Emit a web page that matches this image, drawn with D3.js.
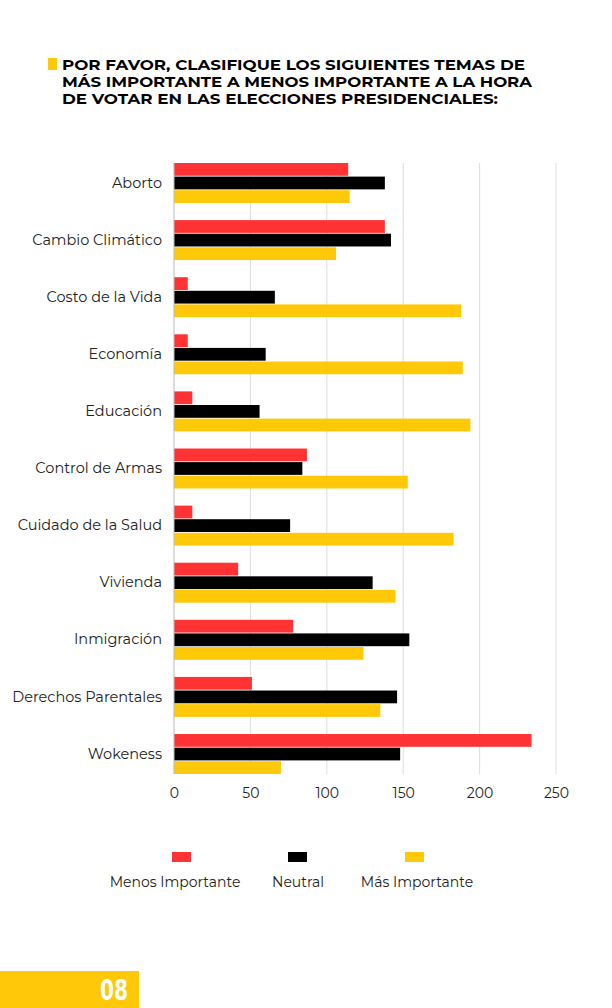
<!DOCTYPE html>
<html>
<head>
<meta charset="utf-8">
<script src="https://cdn.jsdelivr.net/npm/d3@7"></script>
<style>
  body { margin: 0; background: #fff; }
  svg { display: block; }
</style>
</head>
<body>
<svg></svg>
<script>
const categories = ['Aborto', 'Cambio Climático', 'Costo de la Vida', 'Economía', 'Educación',
  'Control de Armas', 'Cuidado de la Salud', 'Vivienda', 'Inmigración', 'Derechos Parentales', 'Wokeness']
const seriesNames = ['Menos Importante', 'Neutral', 'Más Importante']
const menosImportante = [114, 138, 9, 9, 12, 87, 12, 42, 78, 51, 234]
const neutral = [138, 142, 66, 60, 56, 84, 76, 130, 154, 146, 148]
const masImportante = [115, 106, 188, 189, 194, 153, 183, 145, 124, 135, 70]
const xTicks = [0, 50, 100, 150, 200, 250]
const titleLines = ['POR FAVOR, CLASIFIQUE LOS SIGUIENTES TEMAS DE',
  'MÁS IMPORTANTE A MENOS IMPORTANTE A LA HORA',
  'DE VOTAR EN LAS ELECCIONES PRESIDENCIALES:']

const width = 612
const height = 1008
const plotLeft = 174
const plotRight = 556
const plotTop = 163
const plotBottom = 774
const colors = ['#ff3333', '#000000', '#ffc808']
const font = 'Montserrat, "DejaVu Sans", sans-serif'

const series = [menosImportante, neutral, masImportante]
const data = categories.map((c, i) => ({ name: c, values: series.map(s => s[i]) }))

const svg = d3.select('svg')
              .attr('width', width)
              .attr('height', height)

// title
svg.append('rect')
   .attr('x', 48).attr('y', 58)
   .attr('width', 9).attr('height', 12)
   .attr('fill', colors[2])

svg.append('g')
   .selectAll('text')
   .data(titleLines)
   .join('text')
   .attr('x', 62)
   .attr('y', (d, i) => 70 + i * 17)
   .text(d => d)
   .style('font-family', font)
   .style('font-weight', 'bold')
   .style('font-size', '15px')
   .attr('textLength', (d, i) => [463, 470, 436][i])
   .attr('lengthAdjust', 'spacingAndGlyphs')

const xScale = d3.scaleLinear()
                 .domain([0, 250])
                 .range([plotLeft, plotRight])

const yScale = d3.scaleBand()
                 .domain(categories)
                 .range([plotTop, plotBottom])
                 .paddingInner(0.3)
                 .paddingOuter(0)

const subScale = d3.scaleBand()
                   .domain(d3.range(3))
                   .range([0, yScale.bandwidth()])
                   .paddingInner(0.06)

// gridlines
svg.append('g')
   .selectAll('line')
   .data(xTicks.filter(d => d > 0))
   .join('line')
   .attr('x1', d => xScale(d))
   .attr('x2', d => xScale(d))
   .attr('y1', plotTop)
   .attr('y2', plotBottom)
   .attr('stroke', '#dddddd')
   .attr('stroke-width', 1)

// bars
svg.append('g')
   .selectAll('g')
   .data(data)
   .join('g')
   .attr('transform', d => `translate(0, ${yScale(d.name)})`)
   .selectAll('rect')
   .data(d => d.values)
   .join('rect')
   .attr('x', xScale(0))
   .attr('y', (d, i) => subScale(i))
   .attr('width', d => xScale(d) - xScale(0))
   .attr('height', subScale.bandwidth())
   .attr('fill', (d, i) => colors[i])

// zero line
svg.append('line')
   .attr('x1', xScale(0)).attr('x2', xScale(0))
   .attr('y1', plotTop).attr('y2', plotBottom)
   .attr('stroke', '#bbbbbb')

// x axis
const xAxis = d3.axisBottom(xScale)
                .tickValues(xTicks)
                .tickSize(0)
                .tickPadding(14)

const xg = svg.append('g')
              .attr('transform', `translate(0, ${plotBottom})`)
              .call(xAxis)
xg.select('.domain').remove()
xg.selectAll('text')
  .style('font-family', font)
  .style('font-size', '14px')
  .attr('fill', '#222')

// y axis
const yAxis = d3.axisLeft(yScale)
                .tickSize(0)
                .tickPadding(12)

const yg = svg.append('g')
              .attr('transform', `translate(${plotLeft}, 0)`)
              .call(yAxis)
yg.select('.domain').remove()
yg.selectAll('text')
  .style('font-family', font)
  .style('font-size', '14.5px')
  .attr('fill', '#222')

// legend
const legendX = [182, 298, 415]
const legend = svg.append('g')
                  .selectAll('g')
                  .data(seriesNames)
                  .join('g')
                  .attr('transform', (d, i) => `translate(${legendX[i]}, 0)`)
legend.append('rect')
      .attr('x', -10).attr('y', 852)
      .attr('width', 19).attr('height', 10)
      .attr('fill', (d, i) => colors[i])
legend.append('text')
      .attr('x', (d, i) => [-7, 0, 2][i])
      .attr('y', 887)
      .attr('text-anchor', 'middle')
      .text(d => d)
      .style('font-family', font)
      .style('font-size', '14px')
      .attr('fill', '#222')

// page number badge
svg.append('rect')
   .attr('x', 0).attr('y', 971)
   .attr('width', 139).attr('height', 37)
   .attr('fill', colors[2])
svg.append('text')
   .attr('x', 100).attr('y', 1000)
   .text('08')
   .style('font-family', '"Liberation Sans Narrow", "DejaVu Sans Condensed", sans-serif')
   .style('font-weight', 'bold')
   .style('font-size', '28px')
   .attr('textLength', 28)
   .attr('lengthAdjust', 'spacingAndGlyphs')
   .attr('fill', '#fff')
</script>
</body>
</html>
